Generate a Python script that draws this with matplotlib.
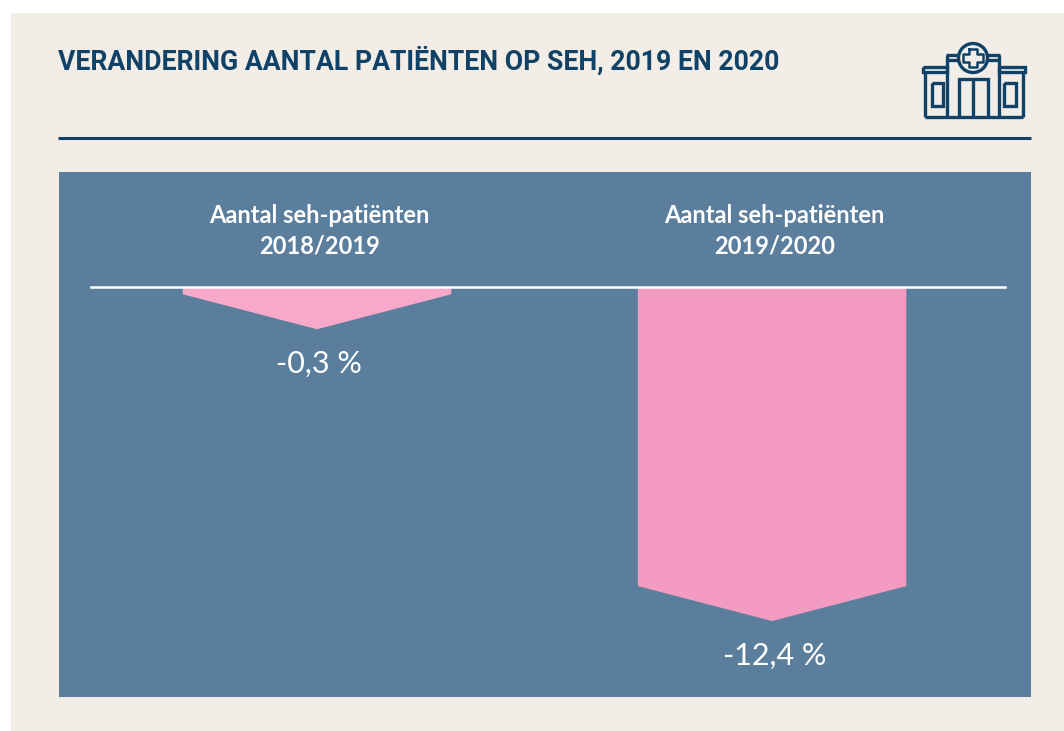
import matplotlib
matplotlib.use("Agg")
import matplotlib.pyplot as plt
from matplotlib.patches import Rectangle, Circle

title = "VERANDERING AANTAL PATIËNTEN OP SEH, 2019 EN 2020"
categories = ["Aantal seh-patiënten\n2018/2019", "Aantal seh-patiënten\n2019/2020"]
values = [-0.3, -12.4]
value_labels = ["-0,3 %", "-12,4 %"]

W, H = 1064, 731
NAVY = "#0f4266"
BLUE = "#5b7e9d"
PINKS = ["#f8a9c9", "#f49bc2"]
BEIGE = "#f2ede7"

fig = plt.figure(figsize=(W / 100, H / 100), dpi=100, facecolor="white")

# background layer in pixel coordinates
bg = fig.add_axes([0, 0, 1, 1])
bg.set_xlim(0, W)
bg.set_ylim(H, 0)
bg.axis("off")
bg.add_patch(Rectangle((11, 13), W - 11, H - 13, fc=BEIGE, ec="none"))
bg.plot([58, 1031], [138, 138], color=NAVY, lw=2.2, solid_capstyle="butt")
bg.text(58, 61, title, color=NAVY, fontsize=19.2, fontweight="bold",
        family="Roboto", va="center", ha="left")


# hospital icon
def icon_line(xs, ys, lw=2.4):
    bg.plot(xs, ys, color=NAVY, lw=lw, solid_joinstyle="miter", solid_capstyle="butt")


icon_line([925, 1023], [117, 117])
icon_line([925, 925], [72, 117])
icon_line([1023, 1023], [72, 117])
icon_line([923, 947, 947, 923, 923], [67, 67, 72, 72, 67])
icon_line([999, 1025, 1025, 999, 999], [67, 67, 72, 72, 67])
icon_line([947, 947], [55, 117])
icon_line([999, 999], [55, 117])
icon_line([946, 960], [55, 55])
icon_line([986, 1000], [55, 55])
icon_line([946, 960], [60, 60])
icon_line([986, 1000], [60, 60])
icon_line([959, 959, 988, 988], [117, 79, 79, 117])
icon_line([973, 973], [79, 117])
icon_line([932, 943, 943, 932, 932], [83, 83, 106, 106, 83])
icon_line([1004, 1016, 1016, 1004, 1004], [83, 83, 106, 106, 83])
bg.add_patch(Circle((973, 58), 14.5, fc=BEIGE, ec=NAVY, lw=2.4, zorder=3))
cross_x = [969, 977, 977, 983, 983, 977, 977, 969, 969, 963, 963, 969, 969]
cross_y = [49, 49, 54, 54, 62, 62, 67, 67, 62, 62, 54, 54, 49]
bg.plot(cross_x, cross_y, color=NAVY, lw=1.8, zorder=4)

# chart panel, one unit on y is one percent point
left, right, top, bottom = 59, 1031, 172, 697
ax = fig.add_axes([left / W, 1 - bottom / H, (right - left) / W, (bottom - top) / H])
ax.set_facecolor(BLUE)
ax.set_xlim(-0.567, 1.569)
ax.set_ylim(-17.0, 4.77)
ax.set_xticks([])
ax.set_yticks([])
for s in ax.spines.values():
    s.set_visible(False)

half = 0.295
head = 1.45
for i, v in enumerate(values):
    ax.fill([i - half, i + half, i + half, i, i - half],
            [0, 0, v, v - head, v], color=PINKS[i], lw=0, zorder=2)
    ax.text(i + 0.005, 2.34, categories[i], color="white", fontsize=17, fontweight="bold",
            family="Lato", ha="center", va="center", linespacing=1.42)
    ax.text(i + 0.005, v - head - 1.45, value_labels[i], color="white", fontsize=22,
            family="Lato", ha="center", va="center")
ax.plot([-0.497, 1.512], [0, 0], color="white", lw=1.8, zorder=3)

fig.savefig("out.png", dpi=100)
